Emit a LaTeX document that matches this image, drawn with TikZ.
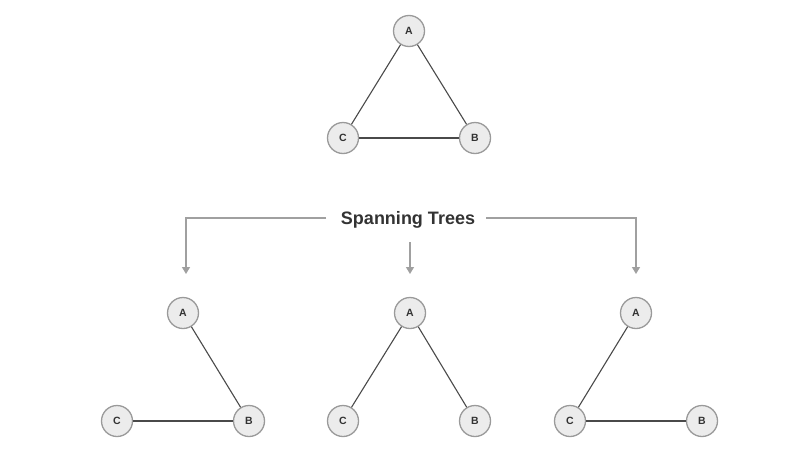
\documentclass[tikz,border=0pt]{standalone}
\usepackage{fontspec}
\setmainfont{Liberation Sans}
\usetikzlibrary{arrows.meta}
\definecolor{nodefill}{HTML}{ECECEC}
\definecolor{nodeline}{HTML}{9A9A9A}
\definecolor{edgecol}{HTML}{4A4A4A}
\definecolor{arrcol}{HTML}{A0A0A0}
\definecolor{txtcol}{HTML}{333333}
\begin{document}
\begin{tikzpicture}[x=1pt,y=-1pt,
  vtx/.style={circle,draw=nodeline,fill=nodefill,line width=1.3pt,minimum size=31pt,inner sep=0pt,
    font=\fontsize{10.5}{12}\selectfont\bfseries,text=txtcol},
  edge/.style={draw=edgecol,line width=1.1pt},
  conn/.style={draw=arrcol,line width=1.3pt},
  arr/.style={conn,-{Triangle[length=7pt,width=8pt]}}]
\useasboundingbox[fill=white] (0,0) rectangle (805,458);
% top triangle
\node[vtx] (A0) at (409,31) {A};
\node[vtx] (C0) at (343,138) {C};
\node[vtx] (B0) at (475,138) {B};
\draw[edge] (A0) -- (C0);
\draw[edge] (A0) -- (B0);
\draw[edge] (C0) -- (B0);
% title
\node[font=\fontsize{18}{20}\selectfont\bfseries,text=txtcol,inner sep=0pt] (T) at (408,220) {Spanning Trees};
\coordinate (L1) at (326,218);
\coordinate (L2) at (186,218);
\coordinate (L3) at (186,274);
\coordinate (R1) at (486,218);
\coordinate (R2) at (636,218);
\coordinate (R3) at (636,274);
\coordinate (M1) at (410,242);
\coordinate (M2) at (410,274);
\draw[arr] (L1) -- (L2) -- (L3);
\draw[arr] (R1) -- (R2) -- (R3);
\draw[arr] (M1) -- (M2);
% tree 1
\node[vtx] (A1) at (183,313) {A};
\node[vtx] (C1) at (117,421) {C};
\node[vtx] (B1) at (249,421) {B};
\draw[edge] (A1) -- (B1);
\draw[edge] (C1) -- (B1);
% tree 2
\node[vtx] (A2) at (410,313) {A};
\node[vtx] (C2) at (343,421) {C};
\node[vtx] (B2) at (475,421) {B};
\draw[edge] (A2) -- (C2);
\draw[edge] (A2) -- (B2);
% tree 3
\node[vtx] (A3) at (636,313) {A};
\node[vtx] (C3) at (570,421) {C};
\node[vtx] (B3) at (702,421) {B};
\draw[edge] (A3) -- (C3);
\draw[edge] (C3) -- (B3);
\end{tikzpicture}
\end{document}
